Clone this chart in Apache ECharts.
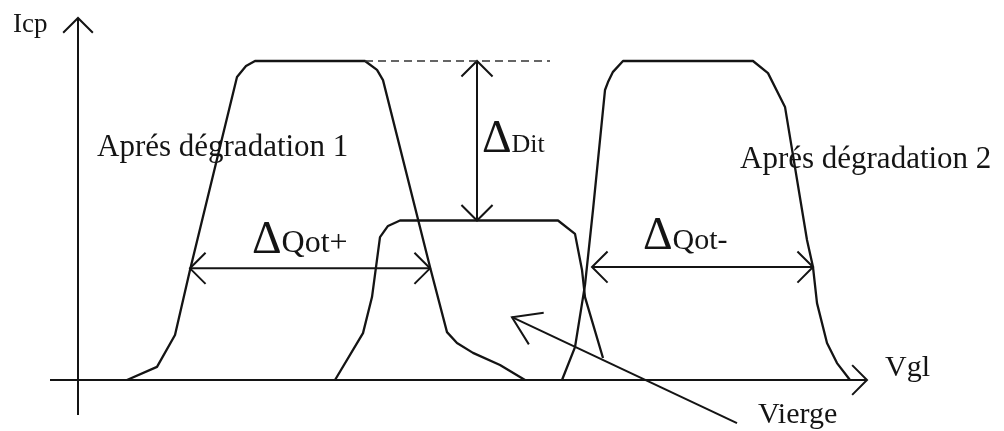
<!DOCTYPE html>
<html>
<head>
<meta charset="utf-8">
<script src="https://cdn.jsdelivr.net/npm/echarts@6/dist/echarts.min.js"></script>
<style>
  html, body { margin: 0; padding: 0; background: #fff; }
  #chart { width: 1004px; height: 431px; }
</style>
</head>
<body>
<div id="chart"></div>
<script>
// Charge-pumping current Icp versus gate voltage Vgl, arbitrary units.
// Saturated Icp of the stressed devices is 1, the fresh (vierge) device saturates at 0.5.

// After stress 1 (curve shifted to lower Vgl)
const vglDeg1 = [0.49, 0.79, 0.97, 1.12, 1.59, 1.68, 1.77, 2.87, 2.99, 3.05, 3.52, 3.69, 3.79, 3.95, 4.22, 4.47];
const icpDeg1 = [0, 0.041, 0.141, 0.345, 0.95, 0.984, 1.0, 1.0, 0.972, 0.94, 0.354, 0.15, 0.116, 0.085, 0.047, 0];

// Fresh device
const vglVierge = [2.57, 2.85, 2.94, 3.02, 3.10, 3.22, 4.80, 4.97, 5.04, 5.07, 5.25];
const icpVierge = [0, 0.147, 0.26, 0.448, 0.483, 0.5, 0.5, 0.458, 0.345, 0.26, 0.069];

// After stress 2 (curve shifted to higher Vgl)
const vglDeg2 = [4.84, 4.97, 5.07, 5.15, 5.27, 5.30, 5.35, 5.45, 6.75, 6.90, 7.07, 7.29, 7.35, 7.39, 7.49, 7.59, 7.72];
const icpDeg2 = [0, 0.103, 0.298, 0.533, 0.909, 0.934, 0.966, 1.0, 1.0, 0.962, 0.856, 0.439, 0.354, 0.241, 0.116, 0.053, 0];

// Plateau levels and the dimension markers
const icpSatDeg = 1.0;
const icpSatVierge = 0.5;
const satGuideVgl = [2.87, 4.72];          // dashed continuation of the stressed plateau
const ditVgl = 3.99;                        // ΔDit measured here
const qotPlusVgl = [1.12, 3.52];
const qotPlusIcp = 0.35;
const qotMinusVgl = [5.14, 7.35];
const qotMinusIcp = 0.354;
const viergePointer = [6.59, -0.135, 4.34, 0.197];

// Axis extents
const vglAxisRange = [-0.28, 7.89];
const icpAxisRange = [-0.11, 1.135];

// Labels
const labelTexts = ['Icp', 'Aprés dégradation 1', 'Aprés dégradation 2', 'ΔDit', 'ΔQot+', 'ΔQot-', 'Vgl', 'Vierge'];

// ---------------------------------------------------------------------------
const INK = '#141414';
const FONT = '"Liberation Serif", "DejaVu Serif", serif';
const MIDDLE = 0.3375;   // canvas "middle" baseline offset of the serif face, in em

const pairs = (xs, ys) => xs.map((x, i) => [x, ys[i]]);

// label anchors (left edge, text baseline) in Vgl / Icp units, and type sizes
const labelLayout = [
  { at: [-0.65, 1.085], size: 27 },
  { at: [0.19, 0.696], size: 31 },
  { at: [6.62, 0.658], size: 31 },
  { at: [4.04, 0.712], size: 26 },
  { at: [1.74, 0.398], size: 32 },
  { at: [5.65, 0.408], size: 30 },
  { at: [8.07, 0.006], size: 30 },
  { at: [6.80, -0.141], size: 30 }
];
const DELTA_SIZE = 46;
const DELTA_DROP = 3;    // px, seats the large delta on the label baseline

const measureCtx = document.createElement('canvas').getContext('2d');
measureCtx.font = DELTA_SIZE + 'px ' + FONT;
const deltaWidth = measureCtx.measureText('Δ').width;

function chevron(tip, from, len, ang, width) {
  const dx = from[0] - tip[0], dy = from[1] - tip[1];
  const d = Math.hypot(dx, dy) || 1;
  const ux = dx / d, uy = dy / d;
  const wing = s => {
    const c = Math.cos(s * ang), sn = Math.sin(s * ang);
    return [tip[0] + len * (ux * c - uy * sn), tip[1] + len * (ux * sn + uy * c)];
  };
  return {
    type: 'polyline',
    shape: { points: [wing(-1), tip, wing(1)] },
    style: { stroke: INK, lineWidth: width, fill: null, lineJoin: 'miter' }
  };
}

function arrowSeries(data, headLen, headDeg, width) {
  const ang = headDeg * Math.PI / 180;
  return {
    type: 'custom',
    clip: false,
    silent: true,
    data: data,
    renderItem: function (params, api) {
      const a = api.coord([api.value(0), api.value(1)]);
      const b = api.coord([api.value(2), api.value(3)]);
      const children = [{
        type: 'line',
        shape: { x1: a[0], y1: a[1], x2: b[0], y2: b[1] },
        style: { stroke: INK, lineWidth: width }
      }, chevron(b, a, headLen, ang, width)];
      if (api.value(4) === 2) children.push(chevron(a, b, headLen, ang, width));
      return { type: 'group', children: children };
    }
  };
}

function curve(xs, ys) {
  return {
    type: 'line',
    data: pairs(xs, ys),
    showSymbol: false,
    symbol: 'none',
    clip: false,
    silent: true,
    lineStyle: { color: INK, width: 2.3, join: 'round' }
  };
}

function textEl(x, baseline, text, size) {
  return {
    type: 'text',
    x: x,
    y: baseline - MIDDLE * size,
    style: {
      text: text,
      fontFamily: FONT,
      fontSize: size,
      fill: INK,
      align: 'left',
      verticalAlign: 'middle'
    }
  };
}

const option = {
  animation: false,
  backgroundColor: '#ffffff',
  grid: { left: 78, right: 126, top: 61, bottom: 51 },
  xAxis: { type: 'value', min: 0, max: 8, show: false },
  yAxis: { type: 'value', min: 0, max: 1, show: false },
  series: [
    curve(vglDeg1, icpDeg1),
    curve(vglVierge, icpVierge),
    curve(vglDeg2, icpDeg2),
    {
      type: 'line',
      data: satGuideVgl.map(v => [v, icpSatDeg]),
      symbol: 'none',
      clip: false,
      silent: true,
      lineStyle: { color: '#333333', width: 1.7, type: [8, 5] }
    },
    // axes
    arrowSeries([
      [vglAxisRange[0], 0, vglAxisRange[1], 0, 1],
      [0, icpAxisRange[0], 0, icpAxisRange[1], 1]
    ], 21, 45, 2),
    // ΔDit, ΔQot+, ΔQot-
    arrowSeries([
      [ditVgl, icpSatDeg, ditVgl, icpSatVierge, 2],
      [qotPlusVgl[0], qotPlusIcp, qotPlusVgl[1], qotPlusIcp, 2],
      [qotMinusVgl[0], qotMinusIcp, qotMinusVgl[1], qotMinusIcp, 2]
    ], 22, 45, 2),
    // pointer to the fresh-device curve
    arrowSeries([viergePointer.concat([1])], 32, 33, 2),
    // text labels
    {
      type: 'custom',
      clip: false,
      silent: true,
      data: labelLayout.map(l => l.at),
      renderItem: function (params, api) {
        const p = api.coord([api.value(0), api.value(1)]);
        const text = labelTexts[params.dataIndex];
        const size = labelLayout[params.dataIndex].size;
        if (text.charAt(0) === 'Δ') {
          // large delta sign followed by the quantity name on the same baseline
          return {
            type: 'group',
            children: [
              textEl(p[0], p[1] + DELTA_DROP, 'Δ', DELTA_SIZE),
              textEl(p[0] + deltaWidth, p[1] + 1, text.slice(1), size)
            ]
          };
        }
        return textEl(p[0], p[1], text, size);
      }
    }
  ]
};

const chart = echarts.init(document.getElementById('chart'), null, { renderer: 'canvas' });
chart.setOption(option);
</script>
</body>
</html>
